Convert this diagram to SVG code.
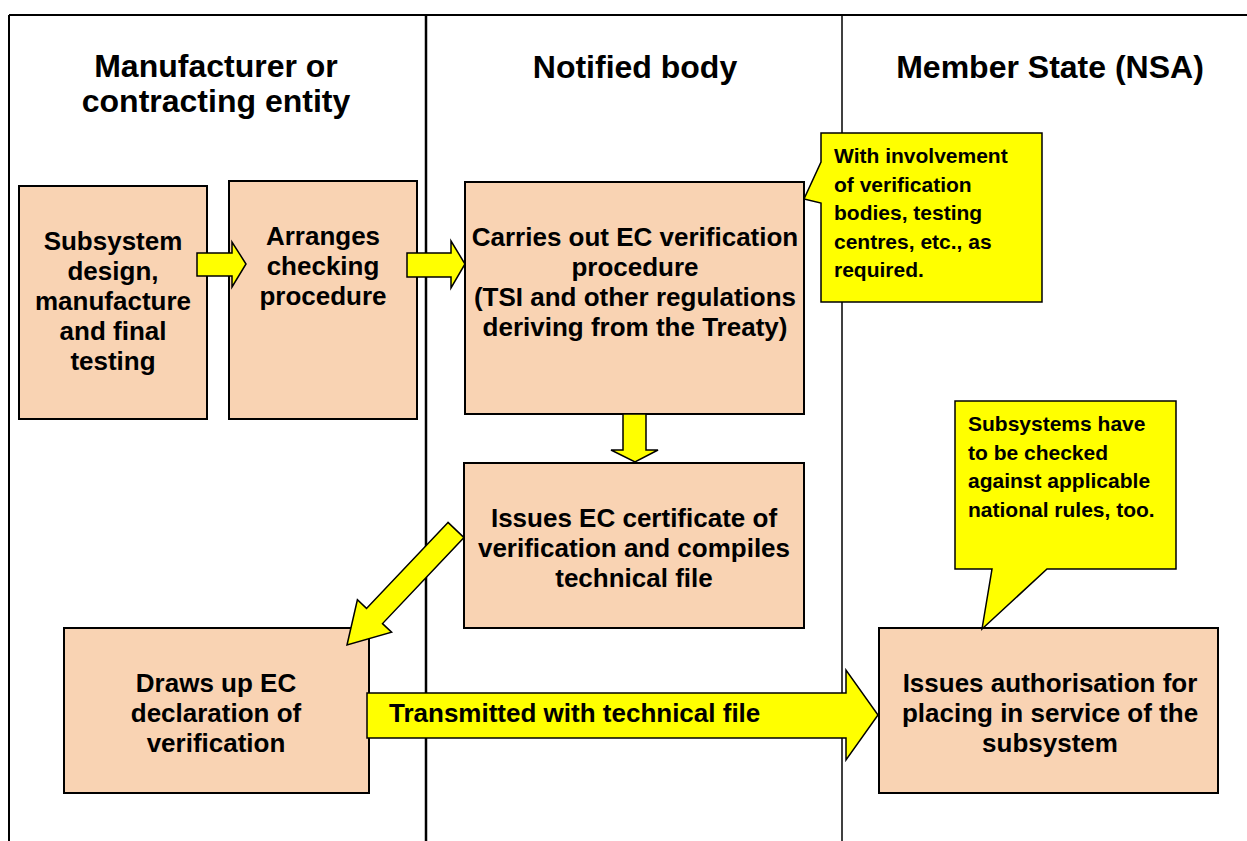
<svg xmlns="http://www.w3.org/2000/svg" width="1247" height="841" viewBox="0 0 1247 841">
<style>
.bg{fill:#ffffff}
.frame{stroke:#000;fill:none}
.box{fill:#F9D3B3;stroke:#000;stroke-width:2}
.arrow{fill:#FFFF00;stroke:#000;stroke-width:1.5;stroke-linejoin:miter}
.callout{fill:#FFFF00;stroke:#000;stroke-width:1.5}
text{font-family:"Liberation Sans",Arial,sans-serif;font-weight:bold;fill:#000}
.hdr{font-size:32px;text-anchor:middle}
.bt{font-size:26px;text-anchor:middle}
.ct{font-size:21px}
.at{font-size:26px}
</style>
<rect class="bg" x="0" y="0" width="1247" height="841"/>
<g id="lanes">
  <line class="frame" x1="9" y1="15" x2="1247" y2="15" stroke-width="2"/>
  <line class="frame" x1="9" y1="15" x2="9" y2="841" stroke-width="2"/>
  <line class="frame" x1="426" y1="15" x2="426" y2="841" stroke-width="2.5"/>
  <line class="frame" x1="842" y1="15" x2="842" y2="841" stroke-width="1.5"/>
  <text class="hdr" x="216" y="77">Manufacturer or</text>
  <text class="hdr" x="216" y="112">contracting entity</text>
  <text class="hdr" x="635" y="78">Notified body</text>
  <text class="hdr" x="1050" y="78">Member State (NSA)</text>
</g>
<g id="n1">
  <rect class="box" x="19" y="186" width="188" height="233"/>
  <text class="bt" x="113" y="250">Subsystem</text>
  <text class="bt" x="113" y="280">design,</text>
  <text class="bt" x="113" y="310">manufacture</text>
  <text class="bt" x="113" y="340">and final</text>
  <text class="bt" x="113" y="370">testing</text>
</g>
<g id="n2">
  <rect class="box" x="229" y="181" width="188" height="238"/>
  <text class="bt" x="323" y="245">Arranges</text>
  <text class="bt" x="323" y="275">checking</text>
  <text class="bt" x="323" y="305">procedure</text>
</g>
<g id="n3">
  <rect class="box" x="465" y="182" width="339" height="232"/>
  <text class="bt" x="635" y="246">Carries out EC verification</text>
  <text class="bt" x="635" y="276">procedure</text>
  <text class="bt" x="635" y="306">(TSI and other regulations</text>
  <text class="bt" x="635" y="336">deriving from the Treaty)</text>
</g>
<g id="n4">
  <rect class="box" x="464" y="463" width="340" height="165"/>
  <text class="bt" x="634" y="527">Issues EC certificate of</text>
  <text class="bt" x="634" y="557">verification and compiles</text>
  <text class="bt" x="634" y="587">technical file</text>
</g>
<g id="n5">
  <rect class="box" x="64" y="628" width="305" height="165"/>
  <text class="bt" x="216" y="692">Draws up EC</text>
  <text class="bt" x="216" y="722">declaration of</text>
  <text class="bt" x="216" y="752">verification</text>
</g>
<g id="n6">
  <rect class="box" x="879" y="628" width="339" height="165"/>
  <text class="bt" x="1050" y="692">Issues authorisation for</text>
  <text class="bt" x="1050" y="722">placing in service of the</text>
  <text class="bt" x="1050" y="752">subsystem</text>
</g>
<g id="connectors">
  <polygon class="arrow" points="197,253 232,253 232,242 246,264 232,287 232,276 197,276"/>
  <polygon class="arrow" points="407,253 451,253 451,241 465,264 451,288 451,277 407,277"/>
  <polygon class="arrow" points="623,414 646,414 646,450 658,450 635,462 611,450 623,450"/>
  <polygon class="arrow" points="448,522.4 366.5,608.4 357.4,599.8 347,645 391.6,632.2 382.5,623.6 464,537.6"/>
  <polygon class="arrow" points="367,693 846,693 846,670 878,715 846,760 846,738 367,738"/>
  <text class="at" x="389" y="722">Transmitted with technical file</text>
</g>
<g id="c1">
  <path class="callout" d="M821,133 L1042,133 L1042,302 L821,302 L821,203 L804,199 L821,162 Z"/>
  <text class="ct" x="834" y="163">With involvement</text>
  <text class="ct" x="834" y="192">of verification</text>
  <text class="ct" x="834" y="220">bodies, testing</text>
  <text class="ct" x="834" y="249">centres, etc., as</text>
  <text class="ct" x="834" y="277">required.</text>
</g>
<g id="c2">
  <path class="callout" d="M955,401 L1176,401 L1176,569 L1047,569 L982,629 L992,569 L955,569 Z"/>
  <text class="ct" x="968" y="431">Subsystems have</text>
  <text class="ct" x="968" y="460">to be checked</text>
  <text class="ct" x="968" y="488">against applicable</text>
  <text class="ct" x="968" y="517">national rules, too.</text>
</g>
</svg>
